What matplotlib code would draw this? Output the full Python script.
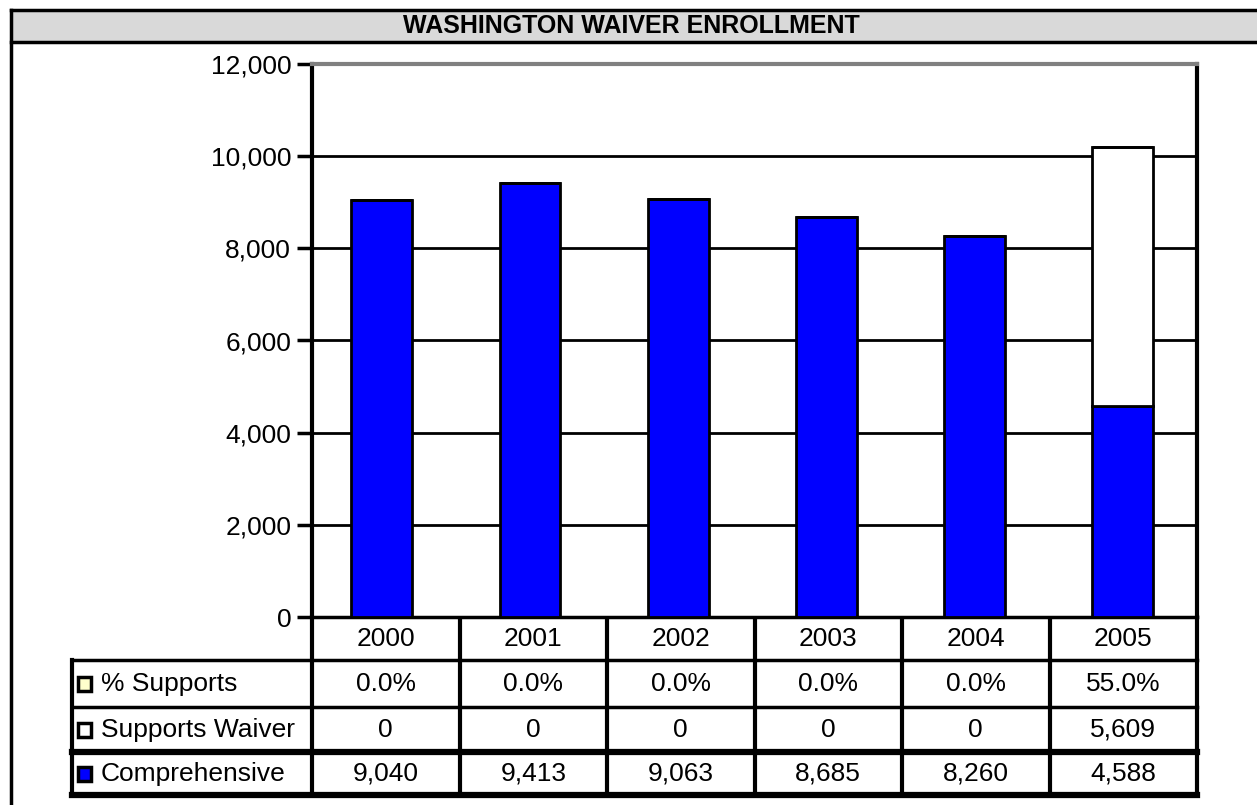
import matplotlib
matplotlib.use("Agg")
import matplotlib.pyplot as plt
from matplotlib.patches import Rectangle
from matplotlib.transforms import Bbox, TransformedBbox

# ---- data ----
years = ["2000", "2001", "2002", "2003", "2004", "2005"]
comprehensive = [9040, 9413, 9063, 8685, 8260, 4588]
supports_waiver = [0, 0, 0, 0, 0, 5609]
pct_supports = [0.0, 0.0, 0.0, 0.0, 0.0, 55.0]
series_names = ["% Supports", "Supports Waiver", "Comprehensive"]
yticks = [0, 2000, 4000, 6000, 8000, 10000, 12000]
title = "WASHINGTON WAIVER ENROLLMENT"

COL_COMP = "#0000FF"
COL_SW = "#FFFFFF"
COL_PCT = "#FFFFCC"

plt.rcParams["font.family"] = ["Liberation Sans", "DejaVu Sans"]
FS = 19

W, H = 1257, 805
fig = plt.figure(figsize=(W / 100, H / 100), dpi=100)
fig.patch.set_facecolor("white")

# overlay axes in pixel coords (y measured from top via Y())
ov = fig.add_axes([0, 0, 1, 1])
ov.set_xlim(0, W)
ov.set_ylim(0, H)
ov.axis("off")
def Y(py):
    return H - py

# plot area
px0, px1 = 312, 1197
py_top, py_bot = 64, 617
ax = fig.add_axes([px0 / W, Y(py_bot) / H, (px1 - px0) / W, (py_bot - py_top) / H])
x = list(range(len(years)))
bw = 0.41
ax.bar(x, comprehensive, width=bw, color=COL_COMP, edgecolor="black", linewidth=2, zorder=3)
bottom2 = [c for c in comprehensive]
ax.bar(x, supports_waiver, width=bw, bottom=bottom2, color=COL_SW, edgecolor="black", linewidth=2, zorder=3)
bottom3 = [c + s for c, s in zip(comprehensive, supports_waiver)]
pct_heights = [p / 100 for p in pct_supports]
ax.bar(x, pct_heights, width=bw, bottom=bottom3, color=COL_PCT, edgecolor="black", linewidth=2, zorder=3)

ax.set_xlim(-0.47, len(years) - 0.5)
ax.set_ylim(0, 12000)
ax.set_yticks(yticks)
ax.set_yticklabels([f"{v:,}" for v in yticks], fontsize=FS)
ax.set_xticks([])
ax.tick_params(axis="y", direction="out", length=11, width=2.5, pad=4)
for v in yticks[1:-1]:
    ax.axhline(v, color="black", linewidth=2, zorder=1)
ax.spines["top"].set_color("#808080")
ax.spines["top"].set_linewidth(3)
ax.spines["left"].set_linewidth(3)
ax.spines["right"].set_linewidth(3)
ax.spines["bottom"].set_linewidth(2.5)
ax.set_facecolor("white")

# ---- title band / outer frame ----
ov.add_patch(Rectangle((11, Y(42)), W, 32, facecolor="#D9D9D9", edgecolor="none"))
ov.plot([11, W], [Y(10), Y(10)], color="black", lw=2.5)
ov.plot([11, W], [Y(42), Y(42)], color="black", lw=2.5)
ov.plot([11, 11], [Y(10), 0], color="black", lw=2.5)
ov.text(631, Y(26), title, ha="center", va="center", fontsize=18, fontweight="bold")

# ---- data table ----
ncol = len(years)
cw = (px1 - px0) / ncol
lab_x0 = 72
row_edges = [617, 660, 707, 752, 795]
# header row (years)
for i, yr in enumerate(years):
    ov.text(px0 + (i + 0.5) * cw, Y((row_edges[0] + row_edges[1]) / 2), yr,
            ha="center", va="center", fontsize=FS)
rows_vals = [
    [f"{p:.1f}%" for p in pct_supports],
    [f"{v:,}" for v in supports_waiver],
    [f"{v:,}" for v in comprehensive],
]
row_colors = [COL_PCT, COL_SW, COL_COMP]
for r in range(3):
    ytop, ybot = row_edges[r + 1], row_edges[r + 2]
    yc = (ytop + ybot) / 2
    for i, s in enumerate(rows_vals[r]):
        ov.text(px0 + (i + 0.5) * cw, Y(yc), s, ha="center", va="center", fontsize=FS)
    ov.add_patch(Rectangle((78, Y(yc + 7)), 13, 14, facecolor=row_colors[r],
                           edgecolor="black", linewidth=2.5))
    t = ov.text(101, Y(yc), series_names[r], ha="left", va="center", fontsize=FS)
    t.set_clip_on(True)
    t.set_clip_box(TransformedBbox(Bbox.from_extents(lab_x0, Y(ybot), px0, Y(ytop)), ov.transData))

# table lines
lw_thin, lw_thick = 2.5, 4.5
for i in range(ncol + 1):
    xx = px0 + i * cw
    ov.plot([xx, xx], [Y(row_edges[0]), Y(row_edges[-1])], color="black", lw=3,
            solid_capstyle="projecting")
ov.plot([lab_x0, lab_x0], [Y(row_edges[1]), Y(row_edges[-1])], color="black", lw=3,
        solid_capstyle="projecting")
ov.plot([lab_x0, px1], [Y(row_edges[1]), Y(row_edges[1])], color="black", lw=lw_thin)
ov.plot([lab_x0, px1], [Y(row_edges[2]), Y(row_edges[2])], color="black", lw=lw_thin)
ov.plot([lab_x0, px1], [Y(row_edges[3]), Y(row_edges[3])], color="black", lw=lw_thick)
ov.plot([lab_x0, px1], [Y(row_edges[4]), Y(row_edges[4])], color="black", lw=lw_thick)

fig.savefig("out.png", dpi=100, facecolor="white")
